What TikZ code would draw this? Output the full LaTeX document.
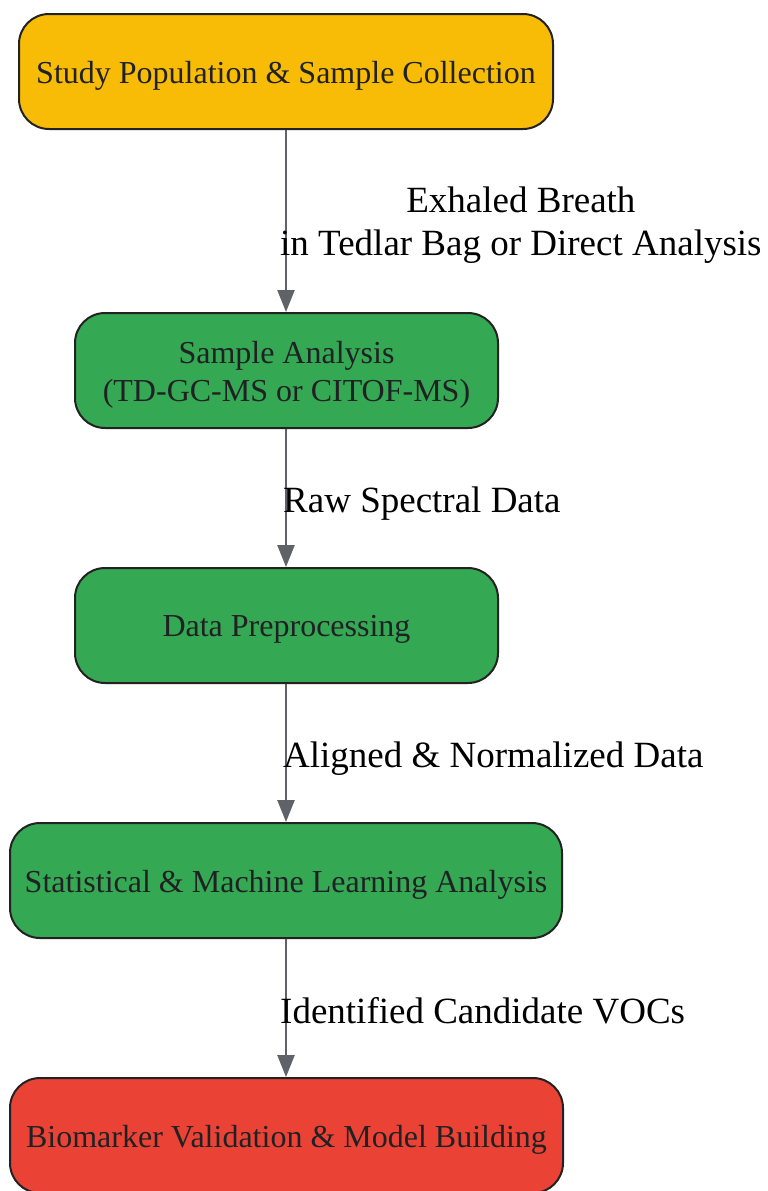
\documentclass[tikz,border=0pt]{standalone}
\usepackage{fontspec}
\setmainfont{Liberation Serif}
\usetikzlibrary{arrows.meta}
\definecolor{cyellow}{HTML}{F9BC06}
\definecolor{cgreen}{HTML}{34A853}
\definecolor{cred}{HTML}{EA4335}
\definecolor{cedge}{HTML}{5F6368}
\definecolor{ctext}{HTML}{202124}
\definecolor{cborder}{HTML}{222222}
\newcommand{\lowertext}[1]{\raisebox{-4pt}[\height][\depth]{#1}}
\tikzset{
  box/.style={draw=cborder, line width=2pt, rounded corners=30pt, minimum height=115pt,
    align=center, text=ctext, font=\fontsize{32}{38}\selectfont, inner sep=0pt},
  flow/.style={draw=cedge, line width=2.5pt, -{Triangle[length=22pt,width=17pt]}},
  lab/.style={font=\fontsize{37}{43}\selectfont, align=center, text=black, inner sep=0pt, anchor=west}
}
\begin{document}
\begin{tikzpicture}[x=1pt,y=-1pt]
\useasboundingbox (0,0) rectangle (768,1191);
\node[box, fill=cyellow, minimum width=534pt] (n1) at (286,71.5) {\lowertext{Study Population \& Sample Collection}};
\node[box, fill=cgreen, minimum width=423pt] (n2) at (286.5,370.5) {\lowertext{\begin{tabular}{@{}c@{}}Sample Analysis\\(TD-GC-MS or CITOF-MS)\end{tabular}}};
\node[box, fill=cgreen, minimum width=423pt] (n3) at (286.5,625.5) {\lowertext{Data Preprocessing}};
\node[box, fill=cgreen, minimum width=552pt] (n4) at (286,880.5) {\lowertext{Statistical \& Machine Learning Analysis}};
\node[box, fill=cred, minimum width=553pt] (n5) at (286.5,1135.5) {\lowertext{Biomarker Validation \& Model Building}};
\draw[flow] (n1.south -| 286,0) -- (n2.north -| 286,0);
\draw[flow] (n2.south -| 286,0) -- (n3.north -| 286,0);
\draw[flow] (n3.south -| 286,0) -- (n4.north -| 286,0);
\draw[flow] (n4.south -| 286,0) -- (n5.north -| 286,0);
\node[lab] (l1) at (280,225) {Exhaled Breath\\in Tedlar Bag or Direct Analysis};
\node[lab] (l2) at (283,504) {Raw Spectral Data};
\node[lab] (l3) at (283,759) {Aligned \& Normalized Data};
\node[lab] (l4) at (280,1011) {Identified Candidate VOCs};
\end{tikzpicture}
\end{document}
